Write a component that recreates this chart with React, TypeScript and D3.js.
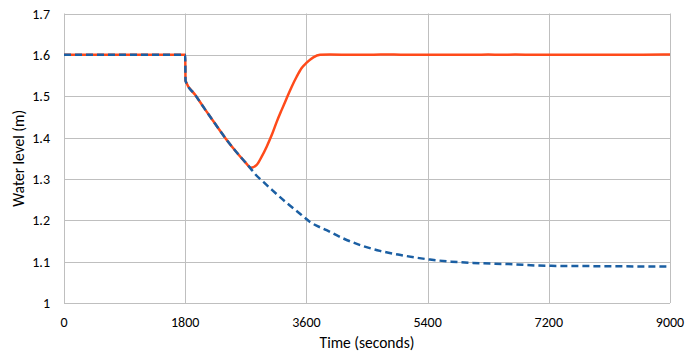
// import d3 for drawing
import * as d3 from "d3";

// import the hooks we need from React
import { useRef, useEffect } from "react";

// time (s) and water level (m) for the controlled case (orange)
const controlTime = [0, 1800, 1805, 1950, 2100, 2250, 2400, 2550, 2700, 2773, 2862, 2936, 3010, 3085, 3159, 3233, 3307, 3382, 3455, 3530, 3604, 3703, 3802, 3950, 4300, 4500, 4700, 4900, 5100, 6100, 6300, 6500, 6700, 7000, 8300, 8900, 9000];
const controlLevel = [1.6, 1.6, 1.537, 1.503, 1.467, 1.432, 1.398, 1.367, 1.339, 1.327, 1.334, 1.354, 1.378, 1.406, 1.438, 1.467, 1.495, 1.523, 1.547, 1.568, 1.581, 1.594, 1.6, 1.601, 1.6, 1.6, 1.601, 1.601, 1.6, 1.6, 1.601, 1.6, 1.601, 1.6, 1.6, 1.601, 1.601];

// time (s) and water level (m) without control (blue dashed)
const freeTime = [0, 1800, 1805, 1950, 2100, 2250, 2400, 2550, 2700, 2773, 2837, 2960, 3085, 3300, 3505, 3654, 3900, 4149, 4400, 4693, 5000, 5436, 5750, 6075, 6600, 7168, 8000, 9000];
const freeLevel = [1.6, 1.6, 1.537, 1.503, 1.467, 1.432, 1.398, 1.367, 1.339, 1.325, 1.312, 1.293, 1.274, 1.243, 1.216, 1.196, 1.176, 1.156, 1.14, 1.126, 1.116, 1.105, 1.1, 1.097, 1.094, 1.09, 1.089, 1.088];

// tick values for both axes
const xTicks = [0, 1800, 3600, 5400, 7200, 9000];
const yTicks = [1, 1.1, 1.2, 1.3, 1.4, 1.5, 1.6, 1.7];

// define the chart component
function WaterLevelChart() {

    // ref for the svg
    const svgRef = useRef(null);

    useEffect(() => {
        const svg = d3.select(svgRef.current);
        svg.selectAll("*").remove();

        const font = "Carlito, 'Liberation Sans Narrow', 'DejaVu Sans Condensed', sans-serif";

        // plot area edges
        const left = 64, right = 670, top = 13.5, bottom = 303;

        // scales
        const x = d3.scaleLinear().domain([0, 9000]).range([left, right]);
        const y = d3.scaleLinear().domain([1, 1.7]).range([bottom, top]);

        // grid lines
        svg.append("g").selectAll("line").data(yTicks).enter().append("line")
            .attr("x1", left).attr("x2", right)
            .attr("y1", d => Math.round(y(d)) + 0.5).attr("y2", d => Math.round(y(d)) + 0.5)
            .attr("stroke", "#bfbfbf").attr("stroke-width", 1);
        svg.append("g").selectAll("line").data(xTicks).enter().append("line")
            .attr("y1", top).attr("y2", bottom)
            .attr("x1", d => Math.round(x(d)) + 0.5).attr("x2", d => Math.round(x(d)) + 0.5)
            .attr("stroke", "#bfbfbf").attr("stroke-width", 1);

        // y tick labels
        svg.append("g").selectAll("text").data(yTicks).enter().append("text")
            .attr("x", 50).attr("y", d => y(d) + 5)
            .attr("text-anchor", "end").style("font-family", font).style("font-size", "14px").attr("fill", "#000")
            .text(d => d === 1 ? "1" : d.toFixed(1));

        // x tick labels
        svg.append("g").selectAll("text").data(xTicks).enter().append("text")
            .attr("x", d => x(d)).attr("y", 327)
            .attr("text-anchor", "middle").style("font-family", font).style("font-size", "14px").attr("fill", "#000")
            .text(d => String(d));

        // smooth line generator
        const line = d3.line<number[]>().x(d => x(d[0])).y(d => y(d[1])).curve(d3.curveMonotoneX);

        const controlData = controlTime.map((t, i) => [t, controlLevel[i]]);
        const freeData = freeTime.map((t, i) => [t, freeLevel[i]]);

        // orange solid line
        svg.append("path").datum(controlData).attr("d", line)
            .attr("fill", "none").attr("stroke", "#ff4a1a").attr("stroke-width", 2.5).attr("stroke-linejoin", "round");

        // blue dashed line
        svg.append("path").datum(freeData).attr("d", line)
            .attr("fill", "none").attr("stroke", "#1b5fa3").attr("stroke-width", 2.5).attr("stroke-dasharray", "7,4");

        // axis titles
        svg.append("text").attr("x", (left + right) / 2).attr("y", 348).attr("text-anchor", "middle")
            .style("font-family", font).style("font-size", "15.5px").text("Time (seconds)");
        svg.append("text").attr("transform", `translate(24,${(top + bottom) / 2}) rotate(-90)`).attr("text-anchor", "middle")
            .style("font-family", font).style("font-size", "15.5px").text("Water level (m)");

    }, []);

    return (
        <svg ref={svgRef} width={686} height={354} style={{ position: "absolute", left: 0, top: 0, background: "#fff" }} />
    );
}

export default function App() {
    return <WaterLevelChart />;
}
